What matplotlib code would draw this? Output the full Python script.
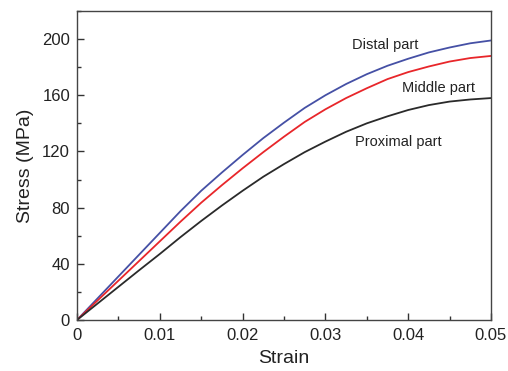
import matplotlib
matplotlib.use("Agg")
import matplotlib.pyplot as plt
from matplotlib.ticker import MultipleLocator

plt.rcParams['font.family'] = ['Liberation Sans', 'DejaVu Sans']

strain = [0.0, 0.0025, 0.005, 0.0075, 0.01, 0.0125, 0.015, 0.0175, 0.02, 0.0225,
          0.025, 0.0275, 0.03, 0.0325, 0.035, 0.0375, 0.04, 0.0425, 0.045, 0.0475, 0.05]
distal = [0, 15.5, 31, 46.5, 62, 77.5, 92, 105, 117.5, 129.5, 140.5, 151, 160, 168, 175, 181, 186, 190.5, 194, 197, 199]
middle = [0, 14, 28, 42, 56, 70, 83.5, 96, 108, 119.5, 130.5, 141, 150, 158, 165, 171.5, 176.5, 180.5, 184, 186.5, 188]
proximal = [0, 11.8, 23.6, 35.4, 47, 59, 70.5, 81.5, 92, 102, 111, 119.5, 127, 134, 140, 145, 149.5, 153, 155.5, 157, 158]

labels = ["Distal part", "Middle part", "Proximal part"]
colors = ["#4550a5", "#e8262a", "#2a2a2a"]
xticks = [0, 0.01, 0.02, 0.03, 0.04, 0.05]
xticklabels = ["0", "0.01", "0.02", "0.03", "0.04", "0.05"]
yticks = [0, 40, 80, 120, 160, 200]

fig = plt.figure(figsize=(5.08, 3.71), dpi=100)
ax = fig.add_axes([0.1516, 0.1375, 0.8149, 0.8329])

for ys, c in zip([distal, middle, proximal], colors):
    ax.plot(strain, ys, color=c, lw=1.3)

ax.set_xlim(0, 0.05)
ax.set_ylim(0, 220)
ax.set_xticks(xticks)
ax.set_xticklabels(xticklabels)
ax.set_yticks(yticks)
ax.xaxis.set_minor_locator(MultipleLocator(0.005))
ax.yaxis.set_minor_locator(MultipleLocator(20))
ax.tick_params(which='both', direction='in', labelsize=12, colors='#333333', labelcolor='#222222')
ax.tick_params(which='major', length=5, width=1)
ax.tick_params(which='minor', length=3, width=1)
for s in ax.spines.values():
    s.set_color('#444444')
    s.set_linewidth(1)
ax.tick_params(axis='x', pad=6)
ax.tick_params(axis='y', pad=5)

ax.set_xlabel("Strain", fontsize=14, color='#222222', labelpad=5)
ax.set_ylabel("Stress (MPa)", fontsize=14, color='#222222', labelpad=6)

ax.text(0.0332, 196, labels[0], fontsize=10.5, color='#222222', va='center')
ax.text(0.0392, 165, labels[1], fontsize=10.5, color='#222222', va='center')
ax.text(0.0336, 127, labels[2], fontsize=10.5, color='#222222', va='center')

fig.savefig("out.png", dpi=100)
